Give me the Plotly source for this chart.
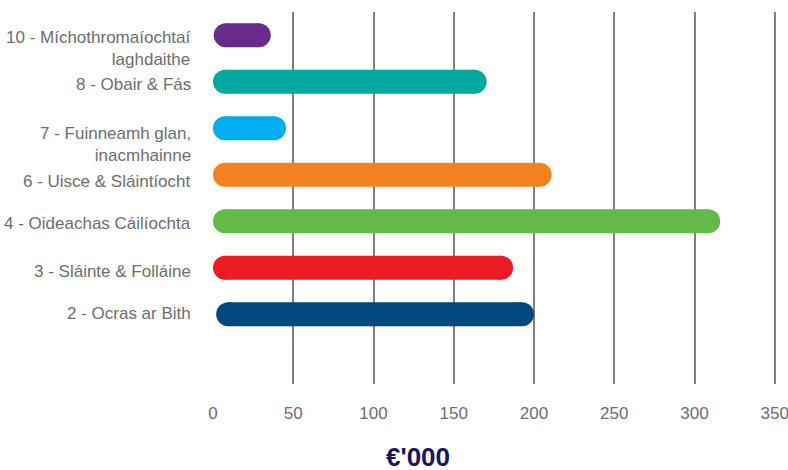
import plotly.graph_objects as go

# categories, top to bottom
labels = [
    "10 - Míchothromaíochtaí<br>laghdaithe",
    "8 - Obair & Fás",
    "7 - Fuinneamh glan,<br>inacmhainne",
    "6 - Uisce & Sláintíocht",
    "4 - Oideachas Cáilíochta",
    "3 - Sláinte & Folláine",
    "2 - Ocras ar Bith",
]
starts = [0.5, 0, 0, 0, 0, 0, 2]
values = [36, 170.5, 45.5, 211, 316, 187, 200]
colors = ["#6a2a8a", "#00a99d", "#00aeef", "#f58220", "#62bb46", "#ed1c24", "#00497f"]
label_offsets = [3, 3, 6, 7, 3, 4, 0]  # px, first text line below the bar centre

W, H = 788, 470
M = dict(l=213, r=10, t=12, b=86)
XMAX = 352  # a little past 350 so the last gridline is drawn
BAR_PX = 24
px_per_unit = (W - M["l"] - M["r"]) / XMAX
cap = BAR_PX / 2 / px_per_unit  # round-cap radius in data units
FONT = "Liberation Sans, Arial, sans-serif"

fig = go.Figure()

for i, (s, v, c) in enumerate(zip(starts, values, colors)):
    # thick line with circular markers at both ends -> pill-shaped bar
    fig.add_trace(go.Scatter(
        x=[s + cap, v - cap],
        y=[i, i],
        mode="lines+markers",
        line=dict(color=c, width=BAR_PX),
        marker=dict(color=c, size=BAR_PX, line=dict(width=0)),
        hoverinfo="skip",
        showlegend=False,
    ))

for i, (lab, off) in enumerate(zip(labels, label_offsets)):
    fig.add_annotation(
        text=lab, xref="paper", x=0, xanchor="right", xshift=-20,
        yref="y", y=i, yanchor="top", yshift=12 - off,
        align="right", showarrow=False,
        font=dict(family=FONT, size=17, color="#6d6e71"),
    )

fig.add_annotation(
    text="<b>€'000</b>", xref="paper", x=(418 - M["l"]) / (W - M["l"] - M["r"]),
    yref="paper", y=0, yanchor="middle", yshift=-(457 - (H - M["b"])),
    showarrow=False,
    font=dict(family=FONT, size=26, color="#1b1464"),
)

fig.update_layout(
    width=W, height=H,
    margin=M,
    plot_bgcolor="white", paper_bgcolor="white",
    xaxis=dict(
        range=[0, XMAX], tick0=0, dtick=50, showgrid=True, gridcolor="#808080", gridwidth=1.5,
        zeroline=False, showline=False, ticks="",
        ticklabelstandoff=17, ticklabeloverflow="allow", automargin=False,
        tickfont=dict(family=FONT, size=17, color="#6d6e71"),
        fixedrange=True,
    ),
    yaxis=dict(
        range=[len(labels) + 0.5, -0.5], showgrid=False, zeroline=False,
        showticklabels=False, automargin=False, fixedrange=True,
    ),
)

# drop the default page margin so the figure sits at the window's corner
fig.write_html("out.html", config=dict(displayModeBar=False),
               post_script="document.body.style.margin='0';")
